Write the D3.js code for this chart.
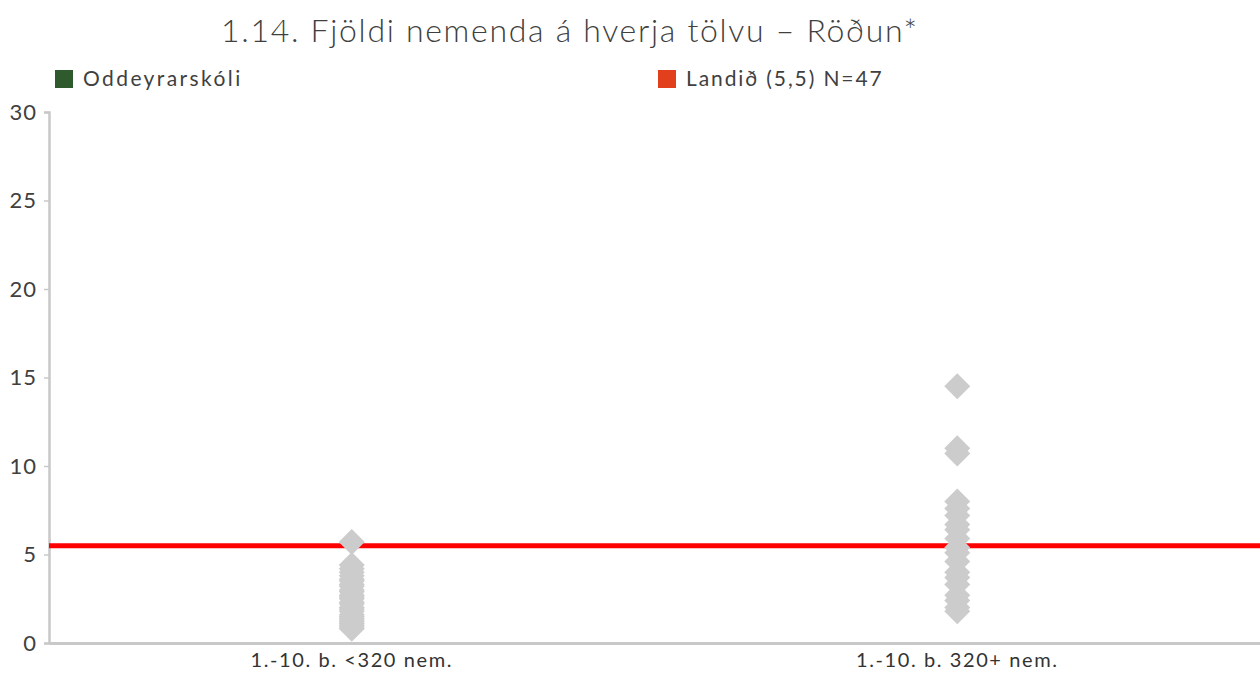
<!DOCTYPE html>
<html>
<head>
<meta charset="utf-8">
<script src="https://cdn.jsdelivr.net/npm/d3@7"></script>
<style>
  body { margin: 0; background: #fff; }
  svg { font-family: Lato, "Open Sans", sans-serif; }
</style>
</head>
<body>
<svg id="chart" width="1260" height="675"></svg>
<script>
const categories = ['1.-10. b. <320 nem.', '1.-10. b. 320+ nem.'];
const smallSchools = [5.7, 4.4, 4.2, 4.0, 3.8, 3.6, 3.5, 3.3, 3.2, 3.0, 2.9, 2.7, 2.6, 2.5, 2.3, 2.2, 2.0, 1.9, 1.8, 1.6, 1.5, 1.4, 1.3, 1.2, 1.1, 1.0, 0.9, 0.8];
const largeSchools = [14.5, 11.0, 10.7, 8.0, 7.6, 7.2, 6.7, 6.4, 5.9, 5.4, 5.1, 4.6, 4.0, 3.7, 3.3, 2.7, 2.4, 2.0, 1.8];
const nationalAvg = 5.5;
const yTicks = [0, 5, 10, 15, 20, 25, 30];
const legendItems = [
    { label: 'Oddeyrarskóli', color: '#2e5a2e', spacing: 2.4 },
    { label: 'Landið (5,5) N=47', color: '#e2401c', spacing: 1.9 }
];

const svg = d3.select('#chart');
const margin = { top: 112, right: 0, bottom: 32, left: 49 };
const width = 1260, height = 675;

const x = d3.scaleBand().domain(categories).range([margin.left, width - margin.right]);
const y = d3.scaleLinear().domain([0, 30]).range([height - margin.bottom, margin.top]);

// title
svg.append('text')
    .attr('x', 570)
    .attr('y', 42)
    .attr('text-anchor', 'middle')
    .attr('font-size', '32px')
    .attr('font-weight', 300)
    .attr('letter-spacing', '1.7px')
    .attr('fill', '#404040')
    .text('1.14. Fjöldi nemenda á hverja tölvu – Röðun*');

// legend
const legendX = [55, 658];
legendItems.forEach((item, i) => {
    svg.append('rect')
        .attr('x', legendX[i]).attr('y', 70)
        .attr('width', 18).attr('height', 18)
        .attr('fill', item.color);
    svg.append('text')
        .attr('x', legendX[i] + 28).attr('y', 86)
        .attr('font-size', '21px')
        .attr('fill', '#404040')
        .attr('letter-spacing', item.spacing + 'px')
        .text(item.label);
});

// y axis
const yAxis = svg.append('g')
    .attr('transform', `translate(${margin.left},0)`)
    .call(d3.axisLeft(y).tickValues(yTicks).tickSize(5).tickPadding(7));
yAxis.select('.domain').attr('stroke', '#c8c8c8').attr('stroke-width', 2.5);
yAxis.selectAll('.tick line').attr('stroke', '#c8c8c8').attr('stroke-width', 1.5);
yAxis.selectAll('.tick text')
    .attr('font-size', '22px')
    .attr('letter-spacing', '1px')
    .attr('fill', '#404040')
    .attr('font-family', 'Lato, sans-serif');

// x axis
const xAxis = svg.append('g')
    .attr('transform', `translate(0,${y(0)})`)
    .call(d3.axisBottom(x).tickSize(0).tickPadding(10));
xAxis.select('.domain').attr('stroke', '#c8c8c8').attr('stroke-width', 3);
xAxis.selectAll('.tick text')
    .attr('font-size', '20px')
    .attr('letter-spacing', '1.6px')
    .attr('fill', '#333')
    .attr('font-family', 'Lato, sans-serif');

// national average line
svg.append('line')
    .attr('x1', margin.left).attr('x2', width)
    .attr('y1', y(nationalAvg)).attr('y2', y(nationalAvg))
    .attr('stroke', '#ff0000')
    .attr('stroke-width', 5);

// points
const points = [
    ...smallSchools.map(v => ({ cat: categories[0], value: v })),
    ...largeSchools.map(v => ({ cat: categories[1], value: v }))
];
const r = 13;
svg.append('g').selectAll('path')
    .data(points)
    .enter().append('path')
    .attr('transform', d => `translate(${x(d.cat) + x.bandwidth() / 2},${y(d.value)})`)
    .attr('d', `M0,${-r}L${r},0L0,${r}L${-r},0Z`)
    .attr('fill', '#cccccc');
</script>
</body>
</html>
